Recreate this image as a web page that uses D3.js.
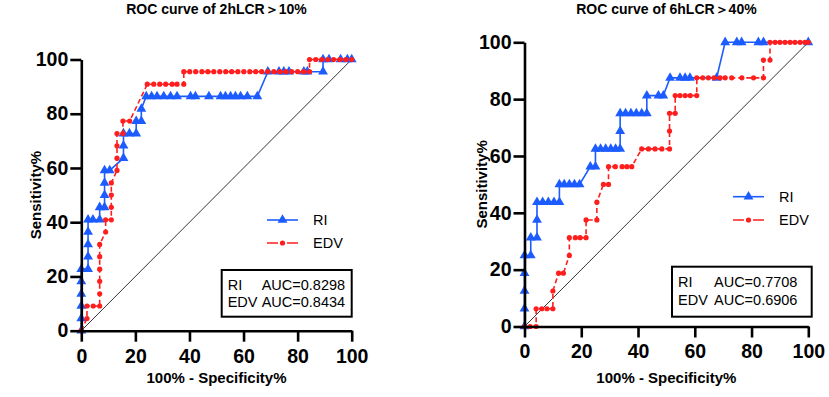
<html>
<head>
<script src="https://cdnjs.cloudflare.com/ajax/libs/d3/7.8.5/d3.min.js"></script>
<style>
  body { margin: 0; background: #fff; }
  text { font-family: "Liberation Sans", Arial, sans-serif; }
</style>
</head>
<body>
<div class="chart"></div>
<script>
const width = 829;
const height = 397;

// ticks shared by both panels
const tickVals = [0, 20, 40, 60, 80, 100];
const seriesNames = ["RI", "EDV"];

// 2hLCR > 10%  : [100% - specificity, sensitivity]
const ri2h = [[0,0],[0,4.5],[0,9.1],[0,13.6],[0,18.2],[0,22.7],[2.5,22.7],[2.5,27.3],[2.5,31.8],[2.5,36.4],[2.5,40.9],
  [4.3,40.9],[6.8,40.9],[6.8,45.5],[8.6,45.5],[8.6,50],[8.6,54.5],[8.6,59.1],[10.5,59.1],[15.6,63.6],[15.6,68.2],
  [15.6,72.7],[17.8,72.7],[20.3,72.7],[20.3,77.3],[22.2,77.3],[22.2,81.8],[24.0,86.4],[26.0,86.4],[28.0,86.4],
  [30.5,86.4],[33.0,86.4],[35.4,86.4],[40.4,86.4],[42.2,86.4],[47.2,86.4],[51.5,86.4],[53.3,86.4],[55.2,86.4],
  [57.0,86.4],[58.9,86.4],[61.4,86.4],[65.1,86.4],[69.0,95.5],[73.1,95.5],[74.9,95.5],[76.8,95.5],[82.3,95.5],
  [83.6,95.5],[89.4,95.5],[89.4,100],[91.6,100],[95.9,100],[98.4,100],[100,100]];
const edv2h = [[0,0],[2.1,4.5],[2.1,9.1],[4.4,9.1],[6.8,9.1],[6.8,13.6],[6.8,18.2],[6.8,22.7],[6.8,27.3],[6.8,31.8],
  [9.0,36.4],[9.0,40.9],[11.1,40.9],[11.1,45.5],[11.1,50],[11.1,54.5],[13.2,59.1],[13.2,63.6],[13.2,68.2],[13.2,72.7],
  [15.4,72.7],[15.4,77.3],[17.9,77.3],[24.4,90.9],[26.8,90.9],[29.0,90.9],[31.2,90.9],[33.6,90.9],[35.4,90.9],
  [37.9,90.9],[37.9,95.5],[40.1,95.5],[42.3,95.5],[44.6,95.5],[46.8,95.5],[49.0,95.5],[51.2,95.5],[53.4,95.5],
  [55.6,95.5],[57.9,95.5],[60.1,95.5],[62.3,95.5],[64.5,95.5],[66.7,95.5],[68.9,95.5],[71.2,95.5],[73.4,95.5],
  [75.6,95.5],[77.8,95.5],[80.0,95.5],[82.2,95.5],[84.4,95.5],[84.4,100],[86.7,100],[88.9,100],[91.1,100],
  [93.3,100],[95.6,100],[97.8,100],[100,100]];
const auc2h = ["0.8298", "0.8434"];

// 6hLCR > 40%
const ri6h = [[0,0],[0,6.25],[0,12.5],[0,18.75],[0,25],[2.2,25],[2.2,31.25],[4.4,31.25],[4.4,37.5],[4.4,43.75],
  [6.4,43.75],[8.4,43.75],[10.4,43.75],[12.3,43.75],[12.3,50],[14.0,50],[15.8,50],[17.6,50],[19.4,50],[23.2,56.25],
  [25.0,56.25],[25.0,62.5],[26.8,62.5],[28.6,62.5],[30.4,62.5],[32.1,62.5],[33.7,62.5],[33.7,68.75],[33.7,75],
  [35.6,75],[37.5,75],[39.4,75],[41.3,75],[43.1,75],[43.1,81.25],[47.2,81.25],[48.9,81.25],[51.3,87.5],[54.8,87.5],
  [56.6,87.5],[58.3,87.5],[67.7,87.5],[70.7,100],[74.8,100],[76.5,100],[82.4,100],[84.2,100],[100,100]];
const edv6h = [[0,0],[2.0,0],[4.1,0],[4.1,6.25],[6.1,6.25],[7.9,6.25],[10.0,6.25],[10.0,12.5],[12.0,18.75],
  [13.7,18.75],[15.8,25],[15.8,31.25],[17.9,31.25],[19.6,31.25],[21.7,31.25],[21.7,37.5],[25.5,37.5],[25.5,43.75],
  [27.8,50],[29.6,50],[29.6,56.25],[32.0,56.25],[34.4,56.25],[36.1,56.25],[37.8,56.25],[41.3,62.5],[43.7,62.5],
  [46.0,62.5],[48.4,62.5],[51.1,62.5],[51.1,68.75],[51.1,75],[53.1,75],[53.1,81.25],[54.8,81.25],[56.6,81.25],
  [58.4,81.25],[60.7,81.25],[60.7,87.5],[62.8,87.5],[64.8,87.5],[66.8,87.5],[68.9,87.5],[70.7,87.5],[73.0,87.5],
  [76.6,87.5],[80.7,87.5],[84.2,87.5],[84.2,93.75],[86.5,93.75],[86.5,100],[88.3,100],[90.0,100],[91.8,100],
  [93.6,100],[95.3,100],[97.1,100],[98.8,100],[100,100]];
const auc6h = ["0.7708", "0.6906"];

const BLUE = "#1c5cff";
const RED = "#ff1e1e";

const svg = d3.select(".chart").append("svg")
  .attr("width", width).attr("height", height);

const panels = [
  { title: "ROC curve of 2hLCR\uFF1E10%", ri: ri2h, edv: edv2h, auc: auc2h,
    left: 81.3, right: 351.7, top: 59.5, bottom: 330.7, ylabX: 41,
    legX: 267, legY: 220, legGap: 23, box: [221.7, 270, 130, 46.7], rowY: [290, 306.7], aucX: 35 },
  { title: "ROC curve of 6hLCR\uFF1E40%", ri: ri6h, edv: edv6h, auc: auc6h,
    left: 524.5, right: 808.3, top: 42.3, bottom: 326.5, ylabX: 487,
    legX: 733, legY: 196.7, legGap: 23.3, box: [672, 266.7, 139.7, 50], rowY: [287.3, 305], aucX: 37 }
];

panels.forEach(p => {
  const x = d3.scaleLinear().domain([0, 100]).range([p.left, p.right]);
  const y = d3.scaleLinear().domain([0, 100]).range([p.bottom, p.top]);
  const g = svg.append("g");
  const cx = (p.left + p.right) / 2;

  // title
  g.append("text").attr("x", cx).attr("y", 14)
    .attr("text-anchor", "middle").attr("font-size", 14).attr("font-weight", "bold")
    .text(p.title);

  // reference diagonal
  g.append("line")
    .attr("x1", x(0)).attr("y1", y(0)).attr("x2", x(100)).attr("y2", y(100))
    .attr("stroke", "#000").attr("stroke-width", 0.8);

  const line = d3.line().x(d => x(d[0])).y(d => y(d[1]));
  const tri = d3.symbol(d3.symbolTriangle).size(42);

  // RI
  g.append("path").datum(p.ri).attr("d", line)
    .attr("fill", "none").attr("stroke", BLUE).attr("stroke-width", 1.6);
  g.selectAll(".tri").data(p.ri).enter().append("path")
    .attr("class", "tri").attr("d", tri)
    .attr("transform", d => `translate(${x(d[0])},${y(d[1])})`)
    .attr("fill", BLUE);

  // EDV
  g.append("path").datum(p.edv).attr("d", line)
    .attr("fill", "none").attr("stroke", RED).attr("stroke-width", 1.6)
    .attr("stroke-dasharray", "5,3");
  g.selectAll(".dot").data(p.edv).enter().append("circle")
    .attr("class", "dot").attr("cx", d => x(d[0])).attr("cy", d => y(d[1]))
    .attr("r", 2.6).attr("fill", RED);

  // axes
  const xa = g.append("g").attr("transform", `translate(0,${p.bottom})`)
    .call(d3.axisBottom(x).tickValues(tickVals).tickSize(11).tickSizeOuter(0).tickPadding(7));
  const ya = g.append("g").attr("transform", `translate(${p.left},0)`)
    .call(d3.axisLeft(y).tickValues(tickVals).tickSize(11).tickSizeOuter(0).tickPadding(2));
  [xa, ya].forEach(a => {
    a.select(".domain").attr("stroke", "#000").attr("stroke-width", 2.6);
    a.selectAll(".tick line").attr("stroke", "#000").attr("stroke-width", 2.6);
    a.selectAll(".tick text").attr("fill", "#000")
      .attr("font-size", 19.5).attr("font-weight", "bold")
      .attr("font-family", "'Liberation Sans', Arial, sans-serif");
  });

  // axis titles
  g.append("text").attr("x", cx).attr("y", 383)
    .attr("text-anchor", "middle").attr("font-size", 15).attr("font-weight", "bold")
    .text("100% - Specificity%");
  g.append("text")
    .attr("transform", `translate(${p.ylabX},${(p.top + p.bottom) / 2}) rotate(-90)`)
    .attr("text-anchor", "middle").attr("font-size", 15).attr("font-weight", "bold")
    .text("Sensitivity%");

  // legend
  seriesNames.forEach((name, i) => {
    const ly = p.legY + i * p.legGap;
    const col = i === 0 ? BLUE : RED;
    g.append("line").attr("x1", p.legX).attr("x2", p.legX + 31).attr("y1", ly).attr("y2", ly)
      .attr("stroke", col).attr("stroke-width", 1.6)
      .attr("stroke-dasharray", i === 0 ? null : "11,4,1,4,11");
    if (i === 0) {
      g.append("path").attr("d", tri).attr("transform", `translate(${p.legX + 15.5},${ly})`).attr("fill", BLUE);
    } else {
      g.append("circle").attr("cx", p.legX + 15.5).attr("cy", ly).attr("r", 2.6).attr("fill", RED);
    }
    g.append("text").attr("x", p.legX + 46).attr("y", ly + 5)
      .attr("font-size", 14.5).text(name);
  });

  // AUC box
  const [bx, by, bw, bh] = p.box;
  g.append("rect").attr("x", bx).attr("y", by).attr("width", bw).attr("height", bh)
    .attr("fill", "#fff").attr("stroke", "#000").attr("stroke-width", 2);
  seriesNames.forEach((name, i) => {
    g.append("text").attr("x", bx + 6).attr("y", p.rowY[i]).attr("font-size", 14.5).text(name);
    g.append("text").attr("x", bx + p.aucX + 5).attr("y", p.rowY[i]).attr("font-size", 14.5)
      .text("AUC=" + p.auc[i]);
  });
});
</script>
</body>
</html>
